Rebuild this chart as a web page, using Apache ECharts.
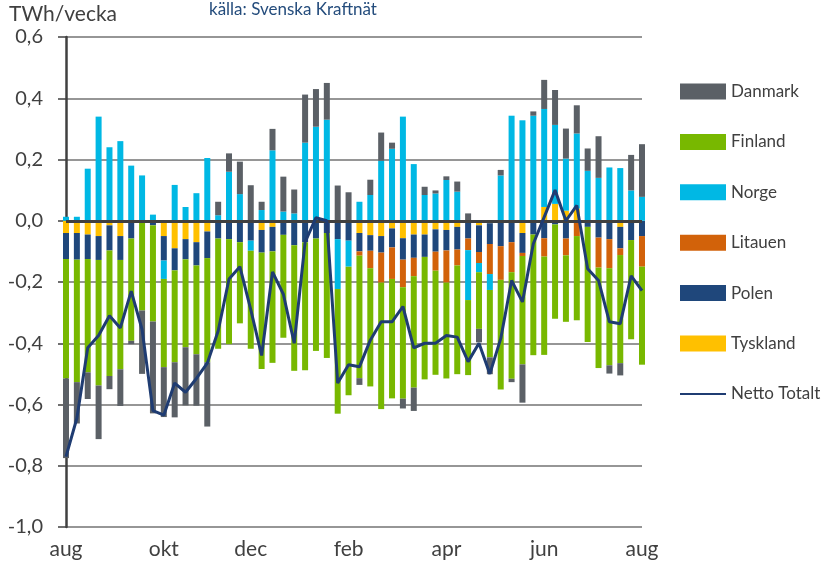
<!DOCTYPE html>
<html>
<head>
<meta charset="utf-8">
<script src="https://cdn.jsdelivr.net/npm/echarts@6/dist/echarts.min.js"></script>
<style>
    html, body { margin: 0; padding: 0; background: #fff; }
    #chart { width: 830px; height: 568px; }
</style>
</head>
<body>
<div id="chart"></div>
<script>
// veckor aug -> aug
let weeks = ['v31', 'v32', 'v33', 'v34', 'v35', 'v36', 'v37', 'v38', 'v39', 'v40', 'v41', 'v42', 'v43', 'v44',
    'v45', 'v46', 'v47', 'v48', 'v49', 'v50', 'v51', 'v52', 'v1', 'v2', 'v3', 'v4', 'v5', 'v6', 'v7', 'v8',
    'v9', 'v10', 'v11', 'v12', 'v13', 'v14', 'v15', 'v16', 'v17', 'v18', 'v19', 'v20', 'v21', 'v22', 'v23',
    'v24', 'v25', 'v26', 'v27', 'v28', 'v29', 'v30', 'v31', 'v32'];

// månadsetiketter på x-axeln och vilken vecka de står vid
let monthLabels = ['aug', 'okt', 'dec', 'feb', 'apr', 'jun', 'aug'];
let monthIdx = [0, 9, 17, 26, 35, 44, 53];

let yTicks = [-1.0, -0.8, -0.6, -0.4, -0.2, 0.0, 0.2, 0.4, 0.6];

// TWh/vecka per land
let tyskland = [-0.04, -0.04, -0.045, -0.05, -0.015, -0.05, 0, 0, 0, -0.05,
    -0.09, -0.06, -0.07, -0.035, 0, 0, 0, 0, -0.03, -0.02,
    0, 0, 0, 0, 0, 0, 0, -0.04, -0.047, -0.05,
    -0.025, -0.057, -0.045, -0.045, -0.028, -0.03, -0.02, 0, -0.015, -0.008,
    0, 0, -0.04, 0, 0.045, 0.055, 0.033, 0.04, 0, 0,
    0, -0.02, 0, 0];

let polen = [-0.085, -0.087, -0.08, -0.078, -0.082, -0.078, -0.058, 0, -0.015, -0.08,
    -0.072, -0.066, -0.076, -0.087, -0.058, -0.06, -0.07, -0.065, -0.074, -0.08,
    -0.046, -0.08, -0.07, -0.058, -0.04, -0.06, -0.065, -0.06, -0.051, -0.054,
    -0.062, -0.07, -0.076, -0.073, -0.073, -0.067, -0.074, -0.058, -0.087, -0.068,
    -0.083, -0.07, -0.065, -0.045, -0.057, -0.012, -0.058, 0, -0.02, -0.055,
    -0.06, -0.07, -0.063, -0.05];

let litauen = [0, 0, 0, 0, 0, 0, 0, 0, 0, 0,
    0, 0, 0, 0, 0, 0, 0, 0, 0, 0,
    0, 0, 0, 0, 0, 0, 0, -0.014, -0.057, -0.098,
    -0.103, -0.09, -0.06, 0, -0.062, -0.105, -0.052, -0.038, -0.036, -0.098,
    -0.11, -0.098, -0.01, 0, -0.06, 0, -0.055, -0.05, 0, -0.098,
    -0.095, -0.022, 0, -0.1];

let norge = [0.013, 0.013, 0.17, 0.34, 0.24, 0.26, 0.18, 0.148, 0.02, -0.06,
    0.117, 0.045, 0.09, 0.205, 0.018, 0.16, 0.087, -0.033, 0.035, 0.23,
    0.03, 0.024, 0.255, 0.307, 0.33, -0.163, -0.085, 0.062, 0.084, 0.196,
    0.235, 0.34, 0.185, 0.084, 0.089, 0.133, 0.095, -0.163, -0.03, -0.052,
    0.148, 0.343, 0.328, 0.343, 0.32, 0.258, 0.17, 0.245, 0.163, 0.14,
    0.174, 0.172, 0.099, 0.078];

let finland = [-0.39, -0.40, -0.37, -0.41, -0.41, -0.357, -0.334, -0.293, -0.314, -0.288,
    -0.30, -0.287, -0.29, -0.34, -0.36, -0.343, -0.265, -0.32, -0.38, -0.364,
    -0.336, -0.41, -0.418, -0.367, -0.408, -0.407, -0.42, -0.40, -0.386, -0.413,
    -0.39, -0.364, -0.364, -0.40, -0.34, -0.313, -0.355, -0.245, -0.185, -0.22,
    -0.358, -0.348, -0.354, -0.394, -0.321, -0.308, -0.217, -0.275, -0.376, -0.328,
    -0.317, -0.353, -0.324, -0.32];

let danmark = [-0.26, -0.135, -0.087, -0.175, -0.043, -0.12, -0.011, -0.207, -0.30, -0.163,
    -0.18, -0.19, -0.168, -0.21, 0.044, 0.06, 0.106, 0.116, 0.027, 0.07,
    0.114, 0.078, 0.157, 0.123, 0.12, 0.115, 0.093, -0.022, 0.05, 0.092,
    0.02, -0.032, -0.076, 0.027, 0.01, 0.012, 0.033, 0.024, -0.044, -0.055,
    0.018, -0.011, -0.125, 0.014, 0.095, 0.114, 0.098, 0.092, 0.073, 0.136,
    -0.027, -0.04, 0.116, 0.172];

let netto = [-0.77, -0.645, -0.415, -0.375, -0.31, -0.35, -0.23, -0.355, -0.62, -0.635,
    -0.53, -0.56, -0.515, -0.465, -0.36, -0.19, -0.15, -0.29, -0.44, -0.167,
    -0.24, -0.40, -0.07, 0.01, 0.0, -0.53, -0.47, -0.477, -0.39, -0.33,
    -0.33, -0.28, -0.415, -0.40, -0.40, -0.375, -0.38, -0.46, -0.40, -0.50,
    -0.385, -0.195, -0.265, -0.075, 0.012, 0.10, 0.0, 0.05, -0.157, -0.195,
    -0.33, -0.336, -0.18, -0.228];

let textColor = '#404040';
let fontName = 'Lato';

function barSeries(name, data, color) {
    return {
        name: name,
        type: 'bar',
        stack: 'total',
        data: data,
        barWidth: 6,
        clip: false,
        itemStyle: { color: color }
    };
}

let chart = echarts.init(document.getElementById('chart'), null, { renderer: 'canvas' });

let option = {
    animation: false,
    textStyle: { fontFamily: fontName },
    title: [
        {
            text: 'TWh/vecka',
            left: 9, top: 4, padding: 0,
            textStyle: { fontSize: 21, fontWeight: 'normal', color: textColor, fontFamily: fontName }
        },
        {
            text: 'källa: Svenska Kraftnät',
            left: 209, top: 1, padding: 0,
            textStyle: { fontSize: 17, fontWeight: 'normal', color: '#244c7c', fontFamily: fontName }
        }
    ],
    legend: {
        orient: 'vertical',
        left: 679,
        top: 83,
        padding: 0,
        itemWidth: 46,
        itemHeight: 16,
        itemGap: 33.4,
        textStyle: { fontSize: 17, color: textColor, fontFamily: fontName },
        data: [
            { name: 'Danmark', icon: 'rect' },
            { name: 'Finland', icon: 'rect' },
            { name: 'Norge', icon: 'rect' },
            { name: 'Litauen', icon: 'rect' },
            { name: 'Polen', icon: 'rect' },
            { name: 'Tyskland', icon: 'rect' },
            { name: 'Netto Totalt', itemStyle: { opacity: 0 } }
        ]
    },
    grid: { left: 66, right: 188, top: 37, bottom: 41 },
    xAxis: {
        type: 'category',
        data: weeks,
        boundaryGap: false,
        axisLine: { show: false },
        axisTick: { show: false },
        axisLabel: {
            interval: function (idx) { return monthIdx.indexOf(idx) >= 0; },
            formatter: function (v, idx) { return monthLabels[monthIdx.indexOf(idx)]; },
            fontSize: 21,
            color: textColor,
            margin: 12
        }
    },
    yAxis: {
        type: 'value',
        min: yTicks[0],
        max: yTicks[yTicks.length - 1],
        interval: 0.2,
        axisLine: { show: true, lineStyle: { color: textColor, width: 2.5 } },
        axisTick: { show: true, length: 8, lineStyle: { color: textColor, width: 1.5 } },
        splitLine: { lineStyle: { color: '#737373', width: 1.5 } },
        axisLabel: {
            fontSize: 20,
            color: textColor,
            margin: 23,
            formatter: function (v) { return v.toFixed(1).replace('.', ','); }
        }
    },
    series: [
        barSeries('Tyskland', tyskland, '#ffc000'),
        barSeries('Polen', polen, '#1f477b'),
        barSeries('Litauen', litauen, '#d2620a'),
        barSeries('Norge', norge, '#00b8e4'),
        barSeries('Finland', finland, '#78b800'),
        barSeries('Danmark', danmark, '#5b6066'),
        {
            name: 'Netto Totalt',
            type: 'line',
            data: netto,
            symbol: 'none',
            z: 5,
            lineStyle: { color: '#1f3c72', width: 3 },
            itemStyle: { color: '#1f3c72' },
            markLine: {
                silent: true,
                symbol: 'none',
                label: { show: false },
                lineStyle: { color: textColor, width: 3, type: 'solid' },
                data: [{ yAxis: 0 }]
            }
        }
    ]
};

chart.setOption(option);
</script>
</body>
</html>
